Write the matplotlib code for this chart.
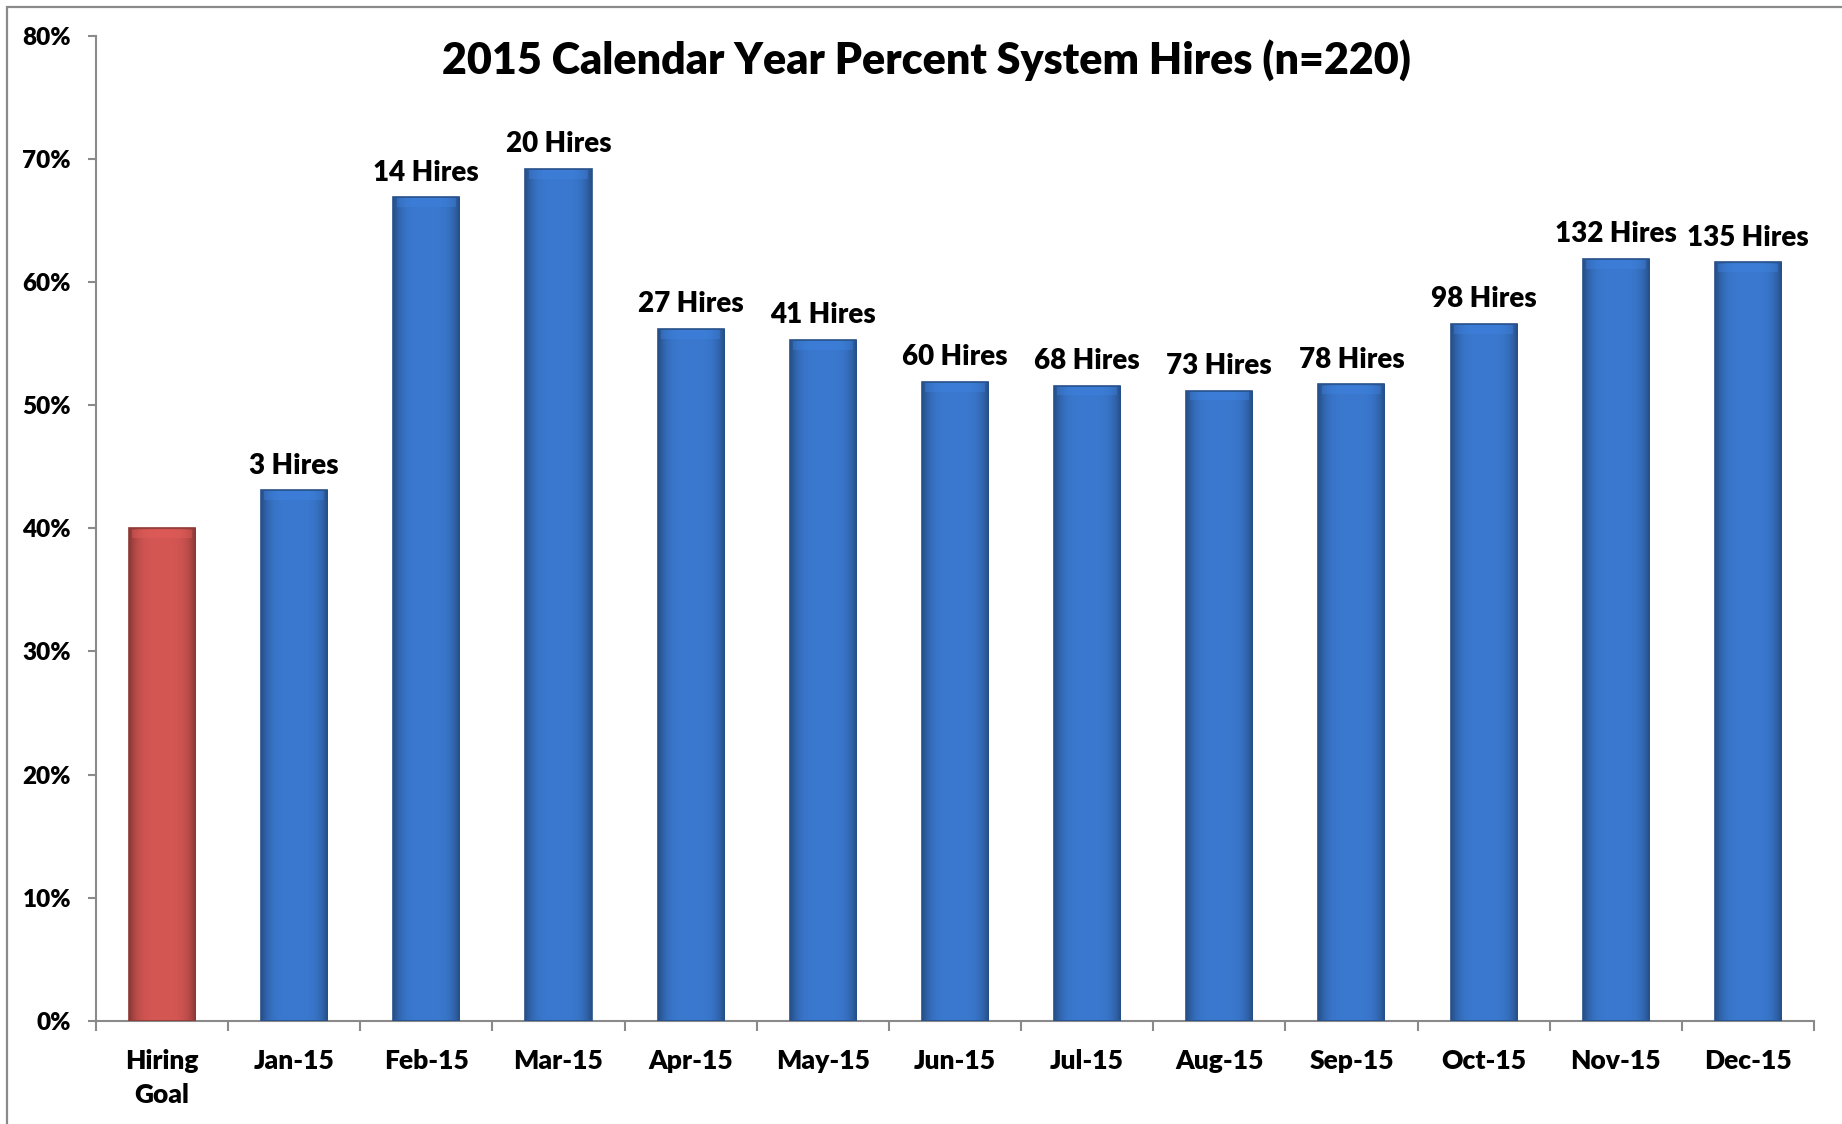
import numpy as np
import matplotlib
matplotlib.use("Agg")
import matplotlib.pyplot as plt
from matplotlib.patches import Rectangle
from matplotlib.ticker import FixedLocator, PercentFormatter

plt.rcParams['font.family'] = ['Lato', 'DejaVu Sans']
plt.rcParams['font.weight'] = 'heavy'

# monthly share of system hires, with the goal as the first bar
categories = ['Hiring\nGoal', 'Jan-15', 'Feb-15', 'Mar-15', 'Apr-15', 'May-15', 'Jun-15',
              'Jul-15', 'Aug-15', 'Sep-15', 'Oct-15', 'Nov-15', 'Dec-15']
percent = [40.0, 43.1, 66.9, 69.2, 56.2, 55.3, 51.9, 51.6, 51.2, 51.7, 56.6, 61.9, 61.6]
hires = [None, 3, 14, 20, 27, 41, 60, 68, 73, 78, 98, 132, 135]

fig = plt.figure(figsize=(18.42, 11.24), dpi=100)
ax = fig.add_axes([0.0521, 0.0918, 0.9327, 0.8762])

x = np.arange(len(categories))
colors = ['#c4504d'] + ['#3670c0'] * (len(categories) - 1)
bars = ax.bar(x, percent, width=0.5, color=colors, zorder=2)

# horizontal shading on each bar for the bevelled look
grad = np.abs(np.linspace(-1, 1, 64))
shade = 1 - 0.35 * grad ** 4
for b, c in zip(bars, colors):
    rgb = np.array(matplotlib.colors.to_rgb(c))
    lighter = np.clip(rgb * 1.08, 0, 1)
    img = lighter[None, :] * shade[:, None]
    x0, w, h = b.get_x(), b.get_width(), b.get_height()
    im = ax.imshow(img[None, :, :], extent=[x0, x0 + w, 0, h], aspect='auto',
                   zorder=3, interpolation='bicubic')
    im.set_clip_path(b)
    # soft top cap
    cap = Rectangle((x0 + w * 0.05, h - 0.8), w * 0.9, 0.7,
                    color=np.clip(rgb * 1.2, 0, 1), alpha=0.35, zorder=4, lw=0)
    ax.add_patch(cap)
    ax.add_patch(Rectangle((x0, 0), w, h, fill=False, ec=rgb * 0.72, lw=1.2, zorder=5))

for xi, p, n in zip(x, percent, hires):
    if n is None:
        continue
    ax.annotate(f'{n} Hires', (xi, p), xytext=(0, 12), textcoords='offset points',
                ha='center', va='baseline', fontsize=20, fontweight='heavy')

ax.set_xlim(-0.5, len(categories) - 0.5)
ax.set_ylim(0, 80)
ax.yaxis.set_major_locator(FixedLocator(np.arange(0, 81, 10)))
ax.yaxis.set_major_formatter(PercentFormatter(decimals=0))
ax.set_xticks(x)
ax.set_xticklabels(categories, fontsize=19, fontweight='heavy', linespacing=1.5)
ax.xaxis.set_minor_locator(FixedLocator(np.arange(-0.5, len(categories), 1)))
ax.tick_params(axis='x', which='major', length=0, pad=20)
ax.tick_params(axis='x', which='minor', length=7, width=1.5, color='#8a8a8a', direction='out')
ax.tick_params(axis='y', length=6, width=1.5, color='#8a8a8a', pad=12, labelsize=17.5)
for lab in ax.get_yticklabels():
    lab.set_fontweight('heavy')

for side in ['top', 'right']:
    ax.spines[side].set_visible(False)
for side in ['left', 'bottom']:
    ax.spines[side].set_color('#8a8a8a')
    ax.spines[side].set_linewidth(1.5)

fig.text(0.503, 0.947, '2015 Calendar Year Percent System Hires (n=220)',
         ha='center', va='center', fontsize=31, fontweight='heavy')

# chart frame
fig.patches.append(Rectangle((0.0038, -0.05), 1.1, 0.0438 + 1.0, transform=fig.transFigure,
                             fill=False, ec='#8a8a8a', lw=1.6))

fig.savefig('out.png', dpi=100)
